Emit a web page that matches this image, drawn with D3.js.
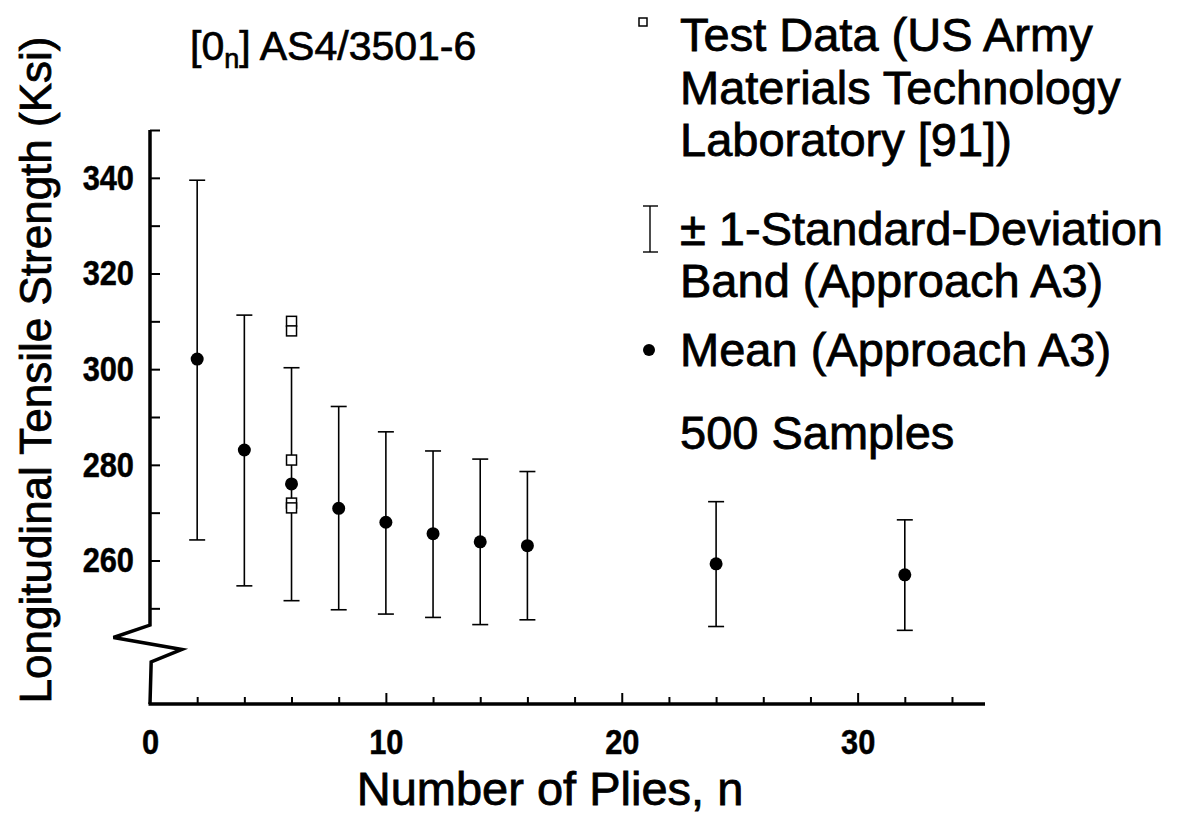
<!DOCTYPE html>
<html>
<head>
<meta charset="utf-8">
<script src="https://cdn.jsdelivr.net/npm/d3@7"></script>
<style>
  body { margin: 0; background: #fff; }
  svg text { font-family: "Liberation Sans", Arial, Helvetica, sans-serif; fill: #000; }
</style>
</head>
<body>
<script>
var wW = 1183;
var wH = 817;

// number of plies for the A3 simulation
var plies = [2, 4, 6, 8, 10, 12, 14, 16, 24, 32];
// mean strength (ksi)
var means = [302.1, 283.1, 276.0, 270.9, 268.0, 265.6, 263.9, 263.1, 259.3, 257.0];
// +/- 1 std dev band ends
var upper = [339.5, 311.3, 300.3, 292.2, 286.9, 282.9, 281.2, 278.6, 272.3, 268.5];
var lower = [264.3, 254.7, 251.6, 249.7, 248.8, 248.1, 246.6, 247.6, 246.2, 245.4];

// test data (all at n = 6)
var testPlies = [6, 6, 6, 6, 6];
var testValues = [310, 308, 281, 272, 271];

var yMinorTicks = [250, 260, 270, 280, 290, 300, 310, 320, 330, 340, 350];
var yLabelTicks = [260, 280, 300, 320, 340];
var xMinorTicks = [2, 4, 6, 8, 12, 14, 16, 18, 22, 24, 26, 28, 32, 34];
var xMajorTicks = [10, 20, 30];
var xLabelTicks = [0, 10, 20, 30];

var legendLines = [
  "Test Data (US Army",
  "Materials Technology",
  "Laboratory [91])",
  "\u00b1 1-Standard-Deviation",
  "Band (Approach A3)",
  "Mean (Approach A3)",
  "500 Samples"
];

var svg = d3.select("body").append("svg")
  .attr("width", wW)
  .attr("height", wH);

var x = d3.scaleLinear().domain([0, 35.4]).range([150, 985]);
var y = d3.scaleLinear().domain([230, 350]).range([704, 130]);

// condensed bold look for tick labels
function tickText(sel) {
  sel.style("font-size", "35px")
    .style("font-weight", "bold")
    .attr("stroke", "#000").attr("stroke-width", 0.5);
}

// y axis ticks (inward)
svg.append("g")
  .attr("transform", "translate(" + x(0) + ",0)")
  .call(d3.axisRight(y).tickValues(yMinorTicks).tickSize(10).tickFormat(""))
  .call(function(g) { g.select(".domain").remove(); })
  .selectAll("line").attr("stroke-width", 2);

svg.append("g")
  .attr("transform", "translate(" + (x(0) - 16) + ",0)")
  .call(d3.axisLeft(y).tickValues(yLabelTicks).tickSize(0).tickPadding(0))
  .call(function(g) { g.select(".domain").remove(); })
  .selectAll(".tick text")
    .call(tickText)
    .attr("transform", "scale(0.88,1)");

// x axis ticks (inward)
svg.append("g")
  .attr("transform", "translate(0," + y(230) + ")")
  .call(d3.axisTop(x).tickValues(xMinorTicks).tickSize(7).tickFormat(""))
  .call(function(g) { g.select(".domain").remove(); })
  .selectAll("line").attr("stroke-width", 2);

svg.append("g")
  .attr("transform", "translate(0," + y(230) + ")")
  .call(d3.axisTop(x).tickValues(xMajorTicks).tickSize(11).tickFormat(""))
  .call(function(g) { g.select(".domain").remove(); })
  .selectAll("line").attr("stroke-width", 2);

svg.append("g")
  .attr("transform", "translate(0," + y(230) + ")")
  .call(d3.axisBottom(x).tickValues(xLabelTicks).tickSize(0).tickPadding(25))
  .call(function(g) { g.select(".domain").remove(); })
  .selectAll(".tick text")
    .call(tickText)
    .attr("transform", "scale(0.88,1)");

// y axis line with the break zigzag
var breakPts = [[0, 350], [0, 246.5], [-1.55, 243.9], [1.35, 241.4], [0.05, 238.8], [0, 230]];
svg.append("path")
  .attr("d", d3.line().x(function(d) { return x(d[0]); }).y(function(d) { return y(d[1]); })(breakPts))
  .attr("fill", "none")
  .attr("stroke", "#000")
  .attr("stroke-width", 3.5)
  .attr("stroke-linejoin", "miter");

// x axis line
svg.append("line")
  .attr("x1", x(0) - 1.5).attr("x2", x(35.4))
  .attr("y1", y(230)).attr("y2", y(230))
  .attr("stroke", "#000")
  .attr("stroke-width", 3.5);

// error bars
var capW = 8;
plies.forEach(function(p, i) {
  var g = svg.append("g").attr("stroke", "#000").attr("stroke-width", 1.6);
  g.append("line")
    .attr("x1", x(p)).attr("x2", x(p))
    .attr("y1", y(upper[i])).attr("y2", y(lower[i]));
  g.append("line")
    .attr("x1", x(p) - capW).attr("x2", x(p) + capW)
    .attr("y1", y(upper[i])).attr("y2", y(upper[i]));
  g.append("line")
    .attr("x1", x(p) - capW).attr("x2", x(p) + capW)
    .attr("y1", y(lower[i])).attr("y2", y(lower[i]));
});

// test data squares
testValues.forEach(function(v, i) {
  svg.append("rect")
    .attr("x", x(testPlies[i]) - 5).attr("y", y(v) - 5)
    .attr("width", 10).attr("height", 10)
    .attr("fill", "#fff")
    .attr("stroke", "#000")
    .attr("stroke-width", 1.5);
});

// means
svg.selectAll("circle.mean")
  .data(plies)
  .enter().append("circle")
  .attr("class", "mean")
  .attr("cx", function(d) { return x(d); })
  .attr("cy", function(d, i) { return y(means[i]); })
  .attr("r", 6.5)
  .attr("fill", "#000");

// axis titles
svg.append("text")
  .attr("x", 550).attr("y", 805)
  .attr("text-anchor", "middle")
  .attr("font-size", 47)
  .attr("stroke", "#000").attr("stroke-width", 0.8)
  .text("Number of Plies, n");

svg.append("text")
  .attr("transform", "translate(51,370) rotate(-90)")
  .attr("text-anchor", "middle")
  .attr("font-size", 44)
  .attr("stroke", "#000").attr("stroke-width", 0.8)
  .text("Longitudinal Tensile Strength (Ksi)");

// title
var title = svg.append("text")
  .attr("x", 190).attr("y", 60)
  .attr("font-size", 41)
  .attr("stroke", "#000").attr("stroke-width", 0.7);
title.append("tspan").text("[0");
title.append("tspan").attr("font-size", 27).attr("dy", 8).text("n");
title.append("tspan").attr("dy", -8).text("] AS4/3501-6");

// legend
var legX = 680;
var legBase = [51, 104, 156, 245, 297, 366, 449];
legendLines.forEach(function(t, i) {
  svg.append("text")
    .attr("x", legX).attr("y", legBase[i])
    .attr("font-size", 47)
    .attr("stroke", "#000").attr("stroke-width", 0.8)
    .text(t);
});

svg.append("rect")
  .attr("x", 639).attr("y", 18).attr("width", 8).attr("height", 8)
  .attr("fill", "#fff").attr("stroke", "#000").attr("stroke-width", 1.5);

var li = svg.append("g").attr("stroke", "#000").attr("stroke-width", 1.4);
li.append("line").attr("x1", 650).attr("x2", 650).attr("y1", 206).attr("y2", 252);
li.append("line").attr("x1", 643).attr("x2", 658).attr("y1", 206).attr("y2", 206);
li.append("line").attr("x1", 643).attr("x2", 658).attr("y1", 252).attr("y2", 252);

svg.append("circle").attr("cx", 649).attr("cy", 350).attr("r", 6).attr("fill", "#000");
</script>
</body>
</html>
